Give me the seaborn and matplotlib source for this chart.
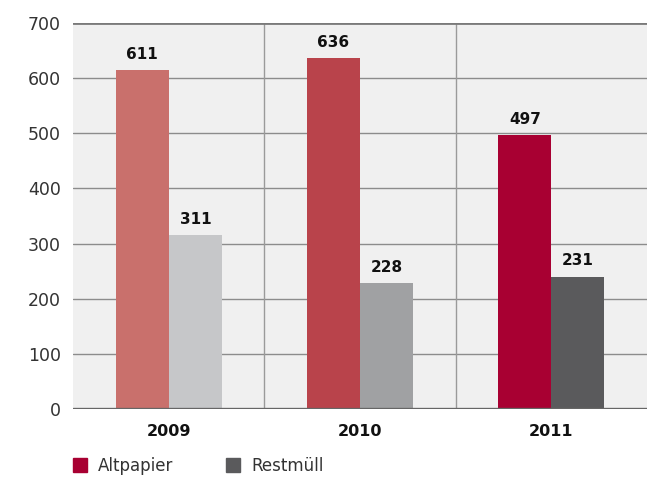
import pandas as pd
import matplotlib
matplotlib.use('Agg')
import matplotlib.pyplot as plt
import seaborn as sns
from matplotlib.lines import Line2D

# Data
years = ['2009', '2010', '2011']
series = ['Altpapier', 'Restmüll']
altpapier = [614, 636, 497]
restmuell = [315, 228, 240]
altpapier_labels = ['611', '636', '497']
restmuell_labels = ['311', '228', '231']

# colours change per year (lighter to darker)
alt_colors = ['#C9706C', '#B9434B', '#A80032']
rest_colors = ['#C6C7C9', '#A0A1A3', '#5A5A5C']
yticks = [0, 100, 200, 300, 400, 500, 600, 700]

df = pd.DataFrame({
    'Jahr': years * 2,
    'Art': [series[0]] * 3 + [series[1]] * 3,
    'Wert': altpapier + restmuell,
})

sns.set_style('white')
plt.rcParams['font.family'] = ['DejaVu Sans']

fig = plt.figure(figsize=(6.65, 4.79), dpi=100)
ax = fig.add_axes([0.110, 0.146, 0.863, 0.806])
ax.set_facecolor('#F0F0F0')

sns.barplot(data=df, x='Jahr', y='Wert', hue='Art', order=years, hue_order=series,
            width=0.555, ax=ax, legend=False, saturation=1)

# recolour bars per year and add value labels
for cont, cols, labs in zip(ax.containers, [alt_colors, rest_colors],
                            [altpapier_labels, restmuell_labels]):
    for bar, c in zip(cont, cols):
        bar.set_facecolor(c)
        bar.set_edgecolor('none')
        bar.set_alpha(1)
        bar.set_zorder(3)
    ax.bar_label(cont, labels=labs, padding=6, fontsize=11, fontweight='bold',
                 color='#111111')

ax.set_xlim(-0.5, 2.5)
ax.set_ylim(0, 700)
ax.set_yticks(yticks)
for y in yticks[1:-1]:
    ax.axhline(y, color='#8C8C8C', lw=1, zorder=0.5)
for x in [0.5, 1.5]:
    ax.axvline(x, color='#9A9A9A', lw=1, zorder=0.5)
ax.axhline(700, color='#7A7A7A', lw=2, zorder=4)
ax.axhline(0, color='#666666', lw=2.4, zorder=4)

for s in ax.spines.values():
    s.set_visible(False)
ax.tick_params(axis='y', length=0, pad=9, labelsize=12.5, labelcolor='#333333')
ax.tick_params(axis='x', length=0, pad=11, labelsize=11.5, labelcolor='#111111')
for t in ax.get_xticklabels():
    t.set_fontweight('bold')
ax.set_xlabel('')
ax.set_ylabel('')

handles = [Line2D([], [], marker='s', ls='none', markersize=10, color=alt_colors[2]),
           Line2D([], [], marker='s', ls='none', markersize=10, color=rest_colors[2])]
fig.legend(handles, series, loc='center left', bbox_to_anchor=(0.082, 0.027), ncol=2,
           frameon=False, fontsize=12, handletextpad=0.5, columnspacing=3.0,
           labelcolor='#333333', handlelength=1.2)

fig.savefig('out.png', dpi=100)
